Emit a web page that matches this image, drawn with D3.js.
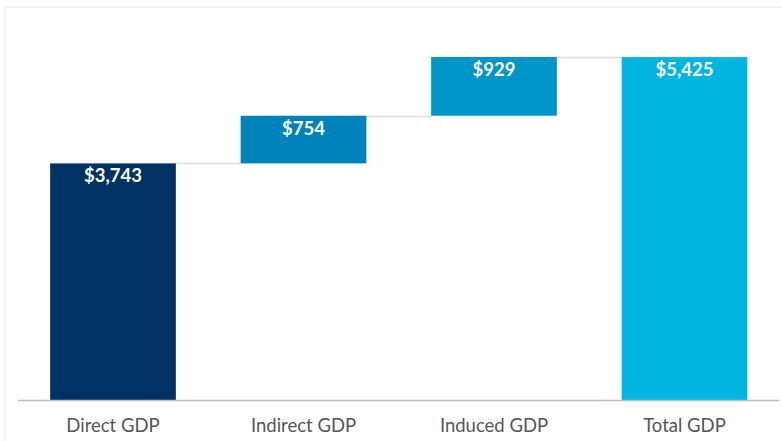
<!DOCTYPE html>
<html>
<head>
<meta charset="utf-8">
<script src="https://cdn.jsdelivr.net/npm/d3@7"></script>
<style>
  body { margin: 0; background: #fff; }
  svg { display: block; font-family: Lato, "Open Sans", sans-serif; }
</style>
</head>
<body>
<svg id="chart" width="782" height="441"></svg>
<script>
// Waterfall data
const categories = ["Direct GDP", "Indirect GDP", "Induced GDP", "Total GDP"];
const values = [3743, 754, 929, 5425];
const isTotal = [false, false, false, true];
const barColors = ["#003263", "#0083bb", "#0096c9", "#00b6e0"];

const width = 782, height = 441;
const svg = d3.select("#chart");

// light frame
svg.append("line")
  .attr("x1", 5).attr("x2", 5).attr("y1", 7).attr("y2", height)
  .style("stroke", "#ececec").style("stroke-width", 1);
svg.append("line")
  .attr("x1", 5).attr("x2", width).attr("y1", 7).attr("y2", 7)
  .style("stroke", "#ececec").style("stroke-width", 1);

// compute start/end of each step
let running = 0;
const data = categories.map((c, i) => {
  let start, end;
  if (isTotal[i]) { start = 0; end = values[i]; running = values[i]; }
  else { start = running; end = running + values[i]; running = end; }
  return { category: c, value: values[i], start, end, color: barColors[i] };
});

const baseY = 400;
const xScale = d3.scaleBand()
  .domain(categories)
  .range([17.75, 779.75])
  .paddingInner(0.34)
  .paddingOuter(0.17);

const yScale = d3.scaleLinear()
  .domain([0, 6000])
  .range([baseY, baseY - 6000 / 15.82]);

// connector lines
const g = svg.append("g");
g.selectAll(".connector")
  .data(data.slice(0, -1))
  .join("line")
  .attr("class", "connector")
  .attr("x1", (d) => xScale(d.category) + xScale.bandwidth())
  .attr("x2", (d, i) => xScale(categories[i + 1]))
  .attr("y1", (d) => Math.round(yScale(d.end)) + 0.5)
  .attr("y2", (d) => Math.round(yScale(d.end)) + 0.5)
  .style("stroke", "#dcdcdc")
  .style("stroke-width", 1.5);

// bars
g.selectAll(".bar")
  .data(data)
  .join("rect")
  .attr("class", "bar")
  .attr("x", (d) => xScale(d.category))
  .attr("y", (d) => yScale(d.end))
  .attr("width", xScale.bandwidth())
  .attr("height", (d) => yScale(d.start) - yScale(d.end))
  .attr("fill", (d) => d.color);

// value labels
g.selectAll(".val")
  .data(data)
  .join("text")
  .attr("class", "val")
  .attr("x", (d) => xScale(d.category) + xScale.bandwidth() / 2)
  .attr("y", (d) => yScale(d.end) + 19)
  .attr("text-anchor", "middle")
  .style("font-size", "18.5px")
  .style("font-weight", "bold")
  .style("fill", "#fff")
  .text((d) => "$" + d3.format(",")(d.value));

// x axis
const xAxis = svg.append("g")
  .attr("transform", `translate(0, ${baseY})`)
  .call(d3.axisBottom(xScale).tickSize(0).tickPadding(19));
xAxis.select(".domain")
  .attr("d", `M18,0.5H779`)
  .style("stroke", "#bdbdbd")
  .style("stroke-width", 1.5);
xAxis.selectAll("text")
  .style("font-family", "Lato, sans-serif")
  .style("font-size", "18.5px")
  .style("fill", "#555");
</script>
</body>
</html>
